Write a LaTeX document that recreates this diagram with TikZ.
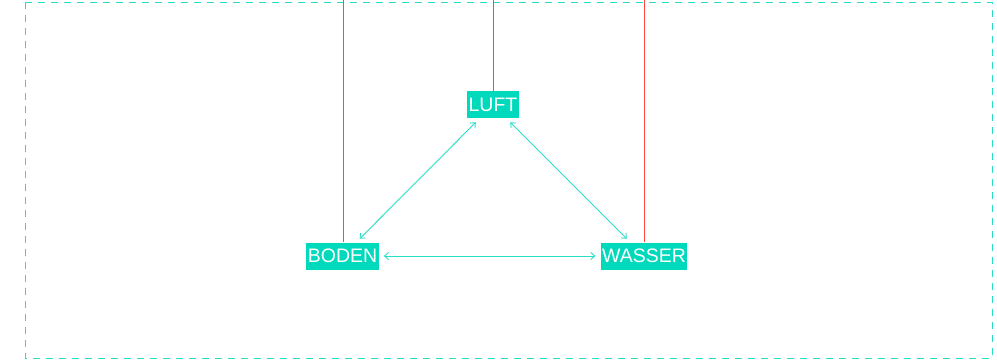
\documentclass[tikz,border=0pt]{standalone}
\usepackage{fontspec}
\setmainfont{Liberation Sans}
\usetikzlibrary{arrows.meta}
\definecolor{tq}{RGB}{0,217,187}
\definecolor{tqline}{RGB}{40,222,200}
\definecolor{redline}{RGB}{255,70,60}
\tikzset{
  compartment/.style={fill=tq, text=white, inner xsep=1.5pt, inner ysep=0pt, minimum height=27pt, font=\fontsize{19.5}{19.5}\selectfont, text depth=0pt, anchor=center},
  link/.style={draw=tqline, line width=0.9pt, {Straight Barb[length=4pt,width=7pt]}-{Straight Barb[length=4pt,width=7pt]}, shorten <=5pt, shorten >=5pt},
  feed/.style={draw=redline, line width=0.9pt},
  frame/.style={draw=tqline, line width=0.8pt, dash pattern=on 7pt off 6pt}
}
\begin{document}
\begin{tikzpicture}[x=1pt,y=-1pt]
\useasboundingbox (0,0) rectangle (997,361);
\draw[frame] (25,2) rectangle (992,358);
\node[compartment] (luft) at (493,105) {LUFT};
\node[compartment] (boden) at (342.5,256) {BODEN};
\node[compartment] (wasser) at (644,256) {WASSER};
\coordinate (tl) at (493,0);
\coordinate (tb) at (343,0);
\coordinate (tw) at (644,0);
\draw[feed] (tl) -- (luft.north);
\draw[feed] (tb) -- (boden.north -| tb);
\draw[feed] (tw) -- (wasser.north -| tw);
\draw[link] (boden) -- (wasser);
\draw[link] (boden) -- (luft);
\draw[link] (luft) -- (wasser);
\end{tikzpicture}
\end{document}
